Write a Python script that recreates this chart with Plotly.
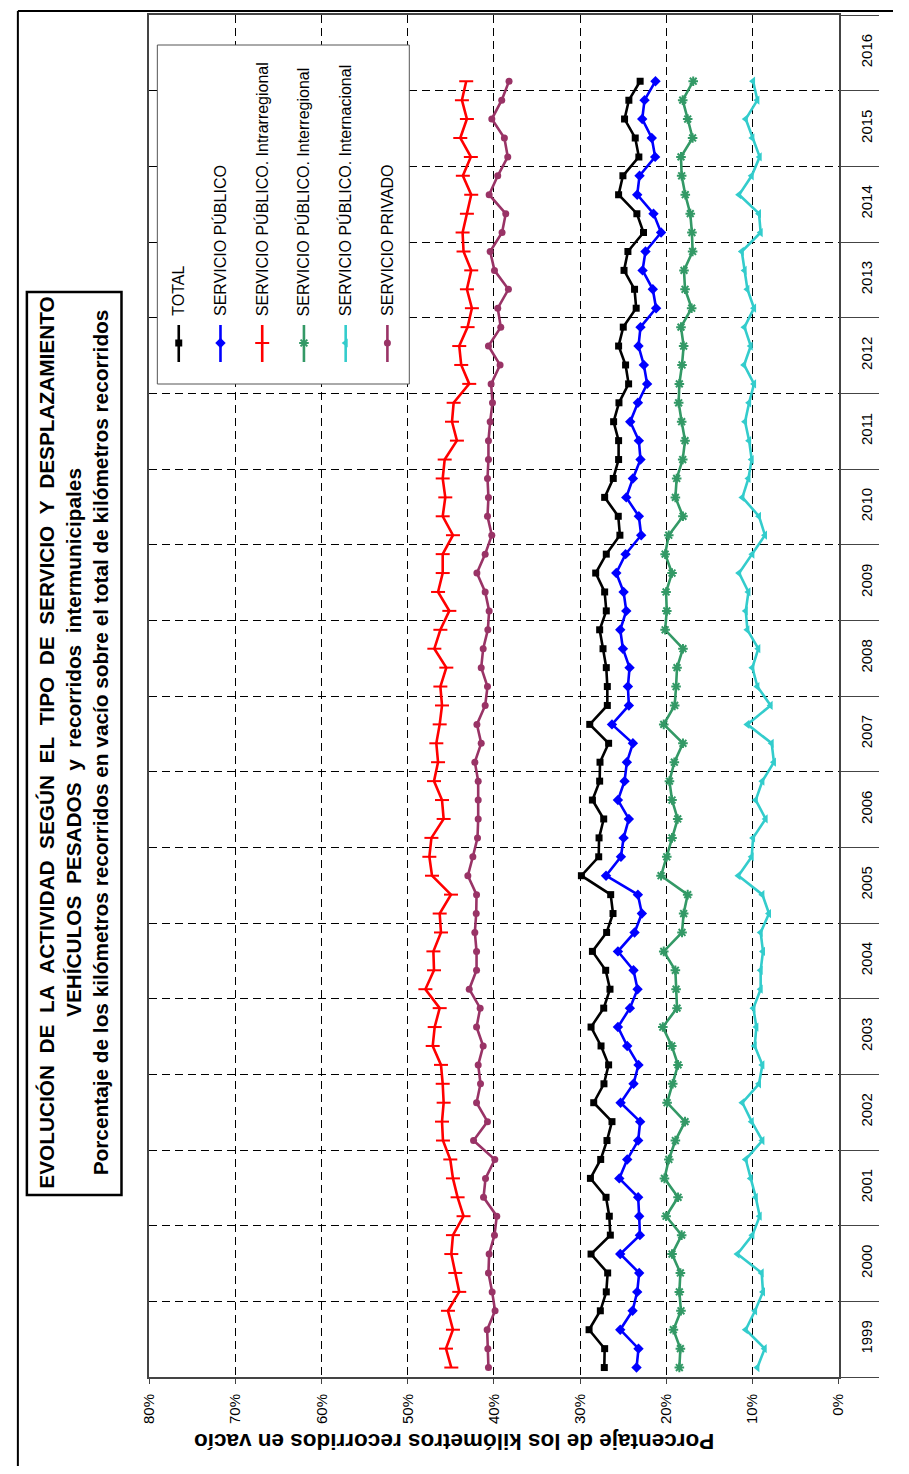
import plotly.graph_objects as go

# The page body has an 8px margin, so the figure is made 16px smaller than the
# window.  The photographed page also shows a slight horizontal squeeze, so
# reference x positions are converted through SX / CX.
OFF = 8
W, H = 909 - 2 * OFF, 1474 - 2 * OFF
SX, CX = 0.985, 7.2
FONT = "Liberation Sans, Arial, sans-serif"

# ---------------- data (quarterly, 1999 T1 .. 2016 T1) ----------------
years = [str(y) for y in range(1999, 2017)]
periods = [f"{y} T{q}" for y in range(1999, 2017) for q in range(1, 5)][:69]

total = [27.19, 27.15, 28.96, 27.65, 26.96, 26.80, 28.73, 26.49, 26.61, 26.99, 28.80, 27.61,
         26.88, 26.30, 28.42, 27.23, 26.69, 27.57, 28.73, 27.26, 26.53, 27.03, 28.57, 26.92,
         26.18, 26.45, 29.85, 27.84, 27.80, 27.26, 28.57, 27.73, 27.69, 26.69, 28.88,
         26.84, 26.84, 26.96, 27.34, 27.73, 26.96, 27.15, 28.19, 26.96, 25.38, 25.57, 27.15,
         26.15, 25.53, 25.53, 26.11, 25.49, 24.37, 24.72, 25.53, 24.99, 23.49, 23.68, 24.90,
         24.45, 22.64, 23.41, 25.53, 25.03, 23.18, 23.60, 24.84, 24.34, 23.03]

publico = [23.45, 23.22, 25.34, 23.91, 23.37, 23.14, 25.34, 23.06, 23.14, 23.26, 25.45, 24.53,
           23.26, 23.03, 25.30, 23.80, 23.22, 24.53, 25.61, 24.22, 23.33, 23.80, 25.61, 23.68,
           22.83, 23.29, 26.99, 25.26, 24.95, 24.34, 25.61, 24.84, 24.57, 23.87, 26.30,
           24.34, 24.45, 24.26, 25.03, 25.34, 24.64, 24.95, 25.80, 24.72, 22.91, 23.18, 24.64,
           23.87, 22.99, 23.18, 24.18, 23.29, 22.22, 22.60, 23.22, 22.99, 21.18, 21.56, 22.75,
           22.41, 20.60, 21.48, 23.37, 23.10, 21.29, 21.68, 22.79, 22.52, 21.25]

intrarregional = [44.95, 45.57, 44.76, 45.34, 44.03, 44.49, 44.95, 44.76, 43.53, 44.22, 44.76, 45.07,
                  45.92, 46.03, 45.84, 45.95, 46.15, 47.11, 46.88, 46.30, 47.96, 46.96, 47.03, 46.15,
                  46.30, 44.99, 47.19, 47.50, 47.26, 45.84, 46.03, 46.96, 46.49, 46.69, 46.30,
                  46.03, 46.22, 45.53, 46.92, 46.22, 45.18, 46.49, 45.95, 45.95, 44.76, 45.95, 45.65,
                  45.95, 45.72, 44.30, 44.87, 44.68, 42.87, 43.80, 44.03, 43.06, 42.56, 43.14, 42.64,
                  43.53, 43.64, 43.14, 42.64, 43.61, 42.68, 43.91, 43.14, 43.72, 43.22]

interregional = [18.48, 18.36, 19.17, 18.29, 18.48, 18.36, 19.33, 18.21, 20.02, 18.63, 20.21, 19.70,
                 18.94, 17.82, 19.90, 19.25, 18.63, 19.36, 20.40, 18.75, 18.86, 18.94, 20.29, 18.17,
                 17.98, 17.51, 20.60, 19.94, 19.33, 18.67, 19.33, 19.63, 19.06, 18.06, 20.29,
                 19.02, 18.86, 18.75, 18.06, 20.13, 19.94, 20.02, 19.33, 20.13, 19.71, 18.06, 18.94,
                 18.79, 18.09, 17.82, 18.21, 18.56, 18.48, 18.17, 17.98, 18.29, 17.05, 17.82, 17.94,
                 16.94, 17.02, 17.21, 17.79, 18.21, 18.29, 16.94, 17.51, 18.09, 16.87]

internacional = [9.42, 8.57, 10.77, 9.69, 8.77, 8.92, 11.73, 10.00, 9.15, 9.61, 10.19, 10.77,
                 8.84, 10.08, 11.16, 9.23, 8.84, 9.73, 9.54, 9.88, 9.04, 9.04, 8.77, 9.04,
                 8.07, 8.84, 11.62, 10.08, 9.92, 8.46, 9.61, 8.84, 7.50, 7.76, 10.58,
                 7.88, 9.42, 10.00, 9.31, 10.58, 10.77, 10.46, 11.54, 10.00, 8.54, 9.23, 11.16,
                 10.46, 10.08, 10.38, 10.85, 10.38, 9.81, 10.96, 10.19, 10.92, 9.81, 10.58, 10.90,
                 11.23, 9.04, 9.23, 11.54, 10.08, 9.15, 10.00, 10.77, 9.42, 9.92]

privado = [40.64, 40.71, 40.79, 39.87, 40.21, 40.64, 40.56, 39.94, 39.67, 41.21, 40.98, 39.90,
           42.37, 40.75, 42.02, 41.56, 41.83, 41.25, 42.02, 41.60, 42.87, 42.02, 42.02, 42.22,
           42.06, 42.02, 43.03, 42.45, 41.91, 41.83, 41.83, 41.83, 42.22, 41.48, 41.98,
           41.02, 40.75, 41.48, 41.25, 40.71, 40.56, 41.02, 41.98, 41.02, 40.25, 40.75, 40.64,
           40.75, 40.64, 40.64, 40.44, 40.17, 40.33, 39.29, 40.64, 39.21, 39.56, 38.32, 39.94,
           40.44, 39.06, 38.63, 40.56, 39.56, 38.40, 38.79, 40.25, 39.10, 38.25]

series_names = ["TOTAL", "SERVICIO PÚBLICO", "SERVICIO PÚBLICO. Intrarregional",
                "SERVICIO PÚBLICO. Interregional", "SERVICIO PÚBLICO. Internacional",
                "SERVICIO PRIVADO"]
series_values = [total, publico, intrarregional, interregional, internacional, privado]

pct_ticks = list(range(0, 81, 10))
pct_labels = [f"{v}%" for v in pct_ticks]

title_lines = ["EVOLUCIÓN  DE  LA  ACTIVIDAD  SEGÚN  EL  TIPO  DE  SERVICIO  Y  DESPLAZAMIENTO",
               "VEHÍCULOS  PESADOS  y  recorridos  intermunicipales",
               "Porcentaje de los kilómetros recorridos en vacío sobre el total de kilómetros recorridos"]
axis_title = "Porcentaje de los kilómetros recorridos en vacío"

# ---------------- styles ----------------
styles = [
    dict(color="#000000", symbol="square", size=7, mlw=0),
    dict(color="#0000FF", symbol="diamond", size=8, mlw=0),
    dict(color="#FF0000", symbol="line-ew", size=10, mlw=2),
    dict(color="#339966", symbol="asterisk", size=8, mlw=2),
    dict(color="#33CCCC", symbol="triangle-left", size=8, mlw=0),
    dict(color="#993366", symbol="circle", size=7, mlw=0),
]


def px(x):
    """reference picture x -> paper fraction"""
    page_x = (x - CX) / SX
    return min(1.0, max(0.0, (page_x - OFF) / W))


def py(y):
    return 1 - (y - OFF) / H


fig = go.Figure()
idx = list(range(len(periods)))

for name, vals, st in zip(series_names, series_values, styles):
    fig.add_trace(go.Scatter(
        x=vals, y=idx, mode="lines+markers", name=name, text=periods,
        line=dict(color=st["color"], width=2.6),
        marker=dict(symbol=st["symbol"], size=st["size"], color=st["color"],
                    line=dict(color=st["color"], width=st["mlw"])),
        showlegend=False, xaxis="x", yaxis="y"))

# dummy trace so the year-label axis is drawn
fig.add_trace(go.Scatter(x=[None], y=[None], xaxis="x", yaxis="y2",
                         showlegend=False, hoverinfo="skip"))

# ---------------- hand-made rotated legend (overlay axes in picture pixels) ----------------
LX0, LY0, LX1, LY1 = 156, 45, 409, 384
fig.add_trace(go.Scatter(x=[LX0, LX1, LX1, LX0, LX0], y=[LY0, LY0, LY1, LY1, LY0],
                         mode="lines", fill="toself", fillcolor="white",
                         line=dict(color="#555555", width=1),
                         xaxis="x3", yaxis="y3", showlegend=False, hoverinfo="skip"))
annotations = []
for i, (name, st) in enumerate(zip(series_names, styles)):
    cx = 177.5 + 41.9 * i
    fig.add_trace(go.Scatter(x=[cx, cx], y=[325, 362], mode="lines",
                             line=dict(color=st["color"], width=2.6),
                             xaxis="x3", yaxis="y3", showlegend=False, hoverinfo="skip"))
    fig.add_trace(go.Scatter(x=[cx], y=[343], mode="markers",
                             marker=dict(symbol=st["symbol"], size=st["size"], color=st["color"],
                                         line=dict(color=st["color"], width=st["mlw"])),
                             xaxis="x3", yaxis="y3", showlegend=False, hoverinfo="skip"))
    annotations.append(dict(text=name, x=px(cx), y=py(318), xref="paper", yref="paper",
                            xanchor="center", yanchor="bottom", textangle=-90, showarrow=False,
                            font=dict(family=FONT, size=16, color="black")))

# title
nb = lambda s: s.replace("  ", "\u00a0\u00a0")
annotations.append(dict(text="<br>".join(f"<b>{nb(t)}</b>" for t in title_lines),
                        x=px(71), y=py(743), xref="paper", yref="paper",
                        xanchor="center", yanchor="middle", textangle=-90, showarrow=False,
                        align="center", font=dict(family=FONT, size=20.8, color="black")))
# value axis title (upside down, as in the rotated original)
annotations.append(dict(text=f"<b>{axis_title}</b>", x=px(454), y=py(1442),
                        xref="paper", yref="paper", xanchor="center", yanchor="middle",
                        textangle=180, showarrow=False,
                        font=dict(family=FONT, size=22.5, color="black")))

shapes = [
    dict(type="rect", xref="paper", yref="paper", x0=px(25), x1=px(120), y0=py(1195), y1=py(292),
         line=dict(color="black", width=2.5), layer="above"),
    dict(type="line", xref="paper", yref="paper", x0=0.001, x1=1, y0=py(11), y1=py(11),
         line=dict(color="black", width=2)),
    dict(type="line", xref="paper", yref="paper", x0=0.001, x1=0.001, y0=py(11), y1=0,
         line=dict(color="black", width=2)),
]

n_years = len(years)
boundaries = [4 * i - 0.5 for i in range(n_years + 1)]
centers = [4 * i + 1.5 for i in range(n_years)]
yrange = [-0.5, 4 * n_years - 0.5]

x3_lo = SX * OFF + CX
x3_hi = SX * (OFF + W) + CX

fig.update_layout(
    width=W, height=H,
    margin=dict(l=0, r=0, t=0, b=0, pad=0),
    paper_bgcolor="white", plot_bgcolor="rgba(0,0,0,0)",
    font=dict(family=FONT, size=15, color="black"),
    showlegend=False,
    xaxis=dict(domain=[px(148), px(840)], range=[80, 0], anchor="y",
               tickvals=pct_ticks, ticktext=pct_labels, tickangle=-90,
               ticks="outside", ticklen=5, tickcolor="#444", tickwidth=1,
               ticklabelstandoff=4,
               showgrid=True, gridcolor="black", gridwidth=1, griddash="8px,5px",
               showline=True, linecolor="#444", linewidth=2, mirror=True,
               zeroline=False, tickfont=dict(size=15, family=FONT)),
    yaxis=dict(domain=[py(1377), py(15)], range=yrange, anchor="x", side="right",
               tickvals=boundaries, ticktext=[""] * len(boundaries),
               ticks="outside", ticklen=38, tickcolor="#444", tickwidth=1,
               showgrid=True, gridcolor="black", gridwidth=1, griddash="8px,5px",
               showline=True, linecolor="#444", linewidth=2, mirror=True,
               zeroline=False),
    yaxis2=dict(overlaying="y", anchor="x", side="right", range=yrange,
                tickvals=centers, ticktext=years, tickangle=-90, ticks="",
                ticklabelstandoff=17, showgrid=False, showline=False, zeroline=False,
                tickfont=dict(size=15, family=FONT)),
    xaxis3=dict(domain=[0, 1], range=[x3_lo, x3_hi], anchor="y3", visible=False, fixedrange=True),
    yaxis3=dict(domain=[0, 1], range=[OFF + H, OFF], anchor="x3", visible=False, fixedrange=True),
    annotations=annotations,
    shapes=shapes,
)

fig.write_html("out.html")
